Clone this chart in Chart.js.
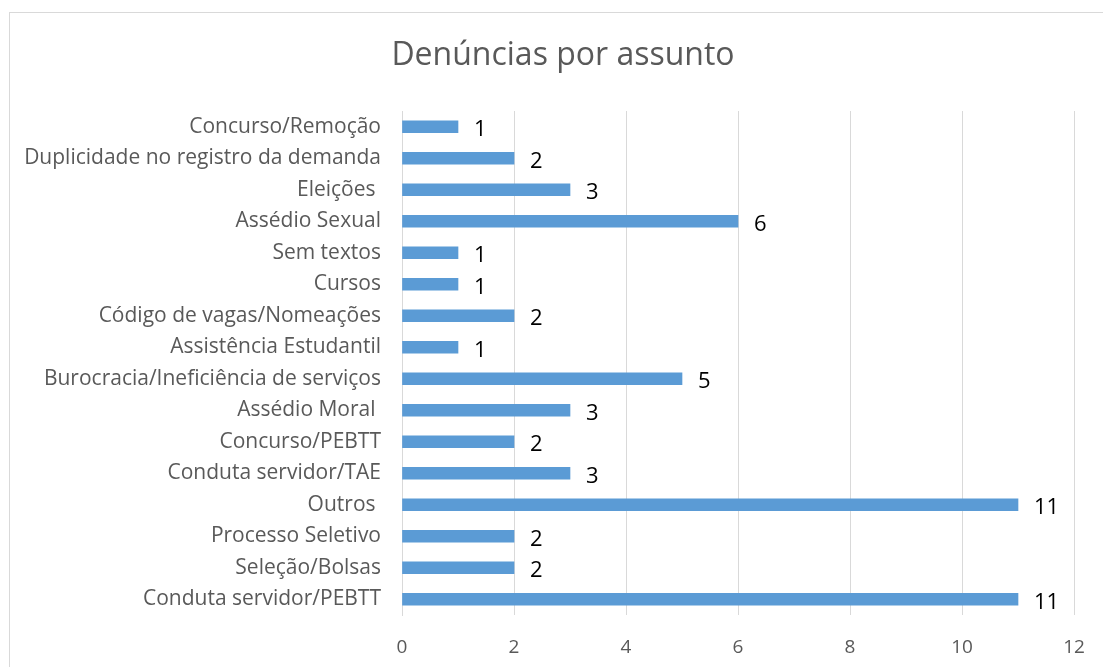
<!DOCTYPE html>
<html>
<head>
<meta charset="utf-8">
<script src="https://cdn.jsdelivr.net/npm/chart.js@4"></script>
<style>
  html, body { margin: 0; padding: 0; background: #fff; overflow: hidden; }
  #frame { position: absolute; left: 9px; top: 12px; width: 1130px; height: 700px; border: 1px solid #d9d9d9; box-sizing: border-box; }
  #wrap { position: absolute; left: 0; top: 0; width: 1103px; height: 667px; }
</style>
</head>
<body>
<div id="frame"></div>
<div id="wrap"><canvas id="c" width="1103" height="667"></canvas></div>
<script>
const chartTitle = "Denúncias por assunto";
const categories = [
  "Concurso/Remoção",
  "Duplicidade no registro da demanda",
  "Eleições ",
  "Assédio Sexual",
  "Sem textos",
  "Cursos",
  "Código de vagas/Nomeações",
  "Assistência Estudantil",
  "Burocracia/Ineficiência de serviços",
  "Assédio Moral ",
  "Concurso/PEBTT",
  "Conduta servidor/TAE",
  "Outros ",
  "Processo Seletivo",
  "Seleção/Bolsas",
  "Conduta servidor/PEBTT"
];
const values = [1, 2, 3, 6, 1, 1, 2, 1, 5, 3, 2, 3, 11, 2, 2, 11];
const xMin = 0, xMax = 12, xStep = 2;

const FONT = '"Open Sans", "Liberation Sans", sans-serif';

const titlePlugin = {
  id: 'customTitle',
  afterDraw(chart) {
    const ctx = chart.ctx;
    ctx.save();
    ctx.font = '32px ' + FONT;
    ctx.fillStyle = '#595959';
    ctx.textAlign = 'center';
    ctx.textBaseline = 'middle';
    ctx.fillText(chartTitle, 563, 56);
    ctx.restore();
  }
};

const labelPlugin = {
  id: 'valueLabels',
  afterDatasetsDraw(chart) {
    const ctx = chart.ctx;
    const meta = chart.getDatasetMeta(0);
    ctx.save();
    ctx.font = '22px ' + FONT;
    ctx.fillStyle = '#000000';
    ctx.textAlign = 'left';
    ctx.textBaseline = 'middle';
    meta.data.forEach((bar, i) => {
      ctx.fillText(String(values[i]), bar.x + 16, bar.y + 3);
    });
    ctx.restore();
  }
};

new Chart(document.getElementById('c'), {
  type: 'bar',
  data: {
    labels: categories,
    datasets: [{
      data: values,
      backgroundColor: '#5B9BD5',
      borderWidth: 0,
      barThickness: 12
    }]
  },
  options: {
    indexAxis: 'y',
    responsive: false,
    animation: false,
    devicePixelRatio: 1,
    layout: { padding: { left: 0, right: 29, top: 111, bottom: 0 } },
    plugins: {
      legend: { display: false },
      title: { display: false },
      tooltip: { enabled: false }
    },
    scales: {
      x: {
        min: xMin, max: xMax,
        afterFit(scale) { scale.height = 52; scale.paddingLeft = 0; scale.paddingRight = 0; },
        ticks: { stepSize: xStep, color: '#595959', font: { family: FONT, size: 19 }, padding: 21, maxRotation: 0 },
        grid: { color: '#d9d9d9', lineWidth: 1, drawTicks: false },
        border: { display: false }
      },
      y: {
        afterFit(scale) { scale.width = 402; scale.paddingTop = 0; scale.paddingBottom = 0; },
        ticks: { color: '#595959', font: { family: FONT, size: 21 }, padding: 21, autoSkip: false },
        grid: { display: false, drawTicks: false },
        border: { display: true, color: '#d9d9d9', width: 1 }
      }
    }
  },
  plugins: [titlePlugin, labelPlugin]
});
</script>
</body>
</html>
